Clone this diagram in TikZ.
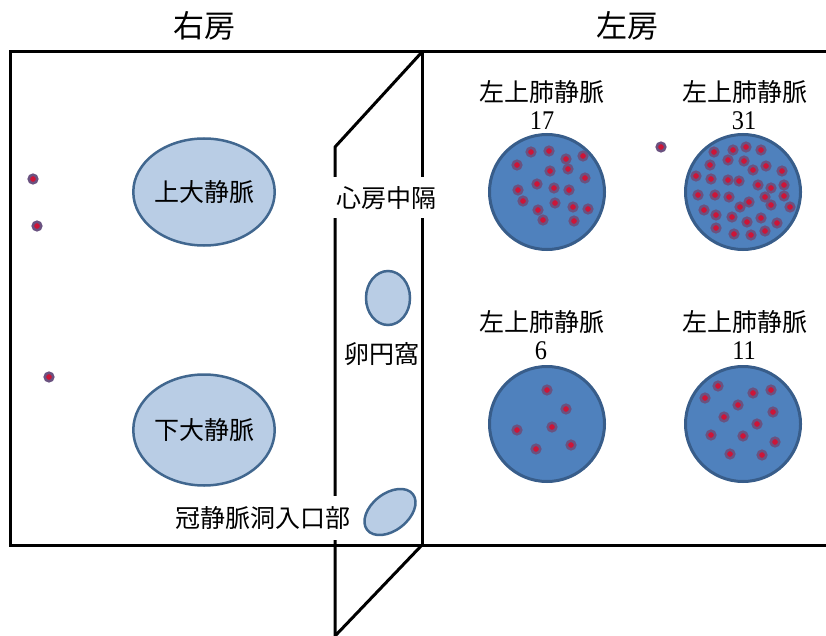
\documentclass[tikz,border=0pt]{standalone}
\usepackage{fontspec}
\setmainfont{Noto Sans CJK JP}
\newfontfamily\digitfont[FakeStretch=0.9]{Liberation Serif}
\usetikzlibrary{shapes.geometric}
\definecolor{veinfill}{HTML}{B9CDE5}
\definecolor{veinedge}{HTML}{41678F}
\definecolor{pvfill}{HTML}{4F81BD}
\definecolor{pvedge}{HTML}{385D8A}
\definecolor{dotred}{HTML}{CC1538}
\definecolor{dotring}{HTML}{6A5280}
\begin{document}
\begin{tikzpicture}[x=1pt,y=-1pt,
  wall/.style={line width=3pt, draw=black},
  vein/.style={ellipse, draw=veinedge, fill=veinfill, line width=2.5pt, inner sep=0pt, font=\fontsize{25}{30}\selectfont},
  pv/.style={circle, draw=pvedge, fill=pvfill, line width=3pt, minimum size=115pt, inner sep=0pt},
  pvdot/.style={fill=dotred, draw=dotring, line width=2.5pt},
  lbl/.style={font=\fontsize{25}{30}\selectfont, inner sep=0pt},
  num/.style={font=\digitfont\fontsize{27}{30}\selectfont, inner sep=0pt},
  ttl/.style={font=\fontsize{31}{36}\selectfont, inner sep=0pt},
  cover/.style={fill=white, inner xsep=5pt, inner ysep=0pt, font=\fontsize{25}{30}\selectfont}
]
\useasboundingbox (0,0) rectangle (826,636);
\fill[white] (0,0) rectangle (826,636);

% atrium walls
\draw[wall] (826,52) -- (10,52) -- (10,545) -- (826,545);
% interatrial septum (parallelogram)
\draw[wall] (422,52) -- (422,545);
\draw[wall, line join=round] (422,52) -- (335,147) -- (335,636) -- (422,545);

% titles
\node[ttl] (ra) at (204,26) {右房};
\node[ttl] (la) at (627,26) {左房};

% right atrium veins
\node[vein, minimum width=136pt, minimum height=107pt] (svc) at (204,192) {上大静脈};
\node[vein, minimum width=136pt, minimum height=111pt] (ivc) at (204,430) {下大静脈};
\node[vein, minimum width=44pt, minimum height=54pt] (fo) at (388,298) {};
\node[vein, rotate=38, minimum width=58pt, minimum height=37pt] (cs) at (390,512) {};

% septum labels
\node[cover, minimum height=41pt] (septlbl) at (386.5,198) {心房中隔};
\node[lbl] (folbl) at (382,354) {卵円窩};
\node[cover, minimum height=44pt, inner xsep=2pt] (cslbl) at (263,518) {冠静脈洞入口部};

% pulmonary veins
\node[pv] (pv1) at (547,192) {};
\node[pv] (pv2) at (743,192) {};
\node[pv] (pv3) at (547,424) {};
\node[pv] (pv4) at (743,424) {};

\node[lbl] (l1) at (542,92) {左上肺静脈};
\node[num] (n1) at (542,121) {17};
\node[lbl] (l2) at (745,92) {左上肺静脈};
\node[num] (n2) at (744,121) {31};
\node[lbl] (l3) at (542,322) {左上肺静脈};
\node[num] (n3) at (541,351) {6};
\node[lbl] (l4) at (745,322) {左上肺静脈};
\node[num] (n4) at (744,351) {11};

% dots
\foreach \p in {(33,179),(37,226),(49,377),(661,147),
  (531,152),(549,151),(566,159),(583,156),(517,165),(550,171),(568,169),(585,178),
  (537,184),(554,188),(569,190),(518,190),(523,201),(555,203),(573,207),(588,209),
  (538,210),(543,220),(574,221),
  (714,152),(733,150),(746,147),(761,150),(710,165),(728,160),(744,161),(753,170),
  (766,166),(782,171),(696,176),(711,179),(728,180),(739,181),(758,185),(771,188),
  (784,185),(698,195),(715,195),(729,197),(765,197),(784,196),(749,202),(740,207),
  (771,205),(790,207),(704,210),(716,215),(732,217),(761,218),(747,222),(777,223),
  (716,228),(765,231),(734,234),(751,235),
  (547,390),(566,409),(517,430),(552,427),(536,449),(571,445),
  (718,386),(705,398),(753,393),(771,390),(738,405),(773,412),(724,417),(757,424),
  (711,435),(743,436),(775,442),(730,454),(762,455)}
  \draw[pvdot] \p circle[radius=4.3];
\end{tikzpicture}
\end{document}
